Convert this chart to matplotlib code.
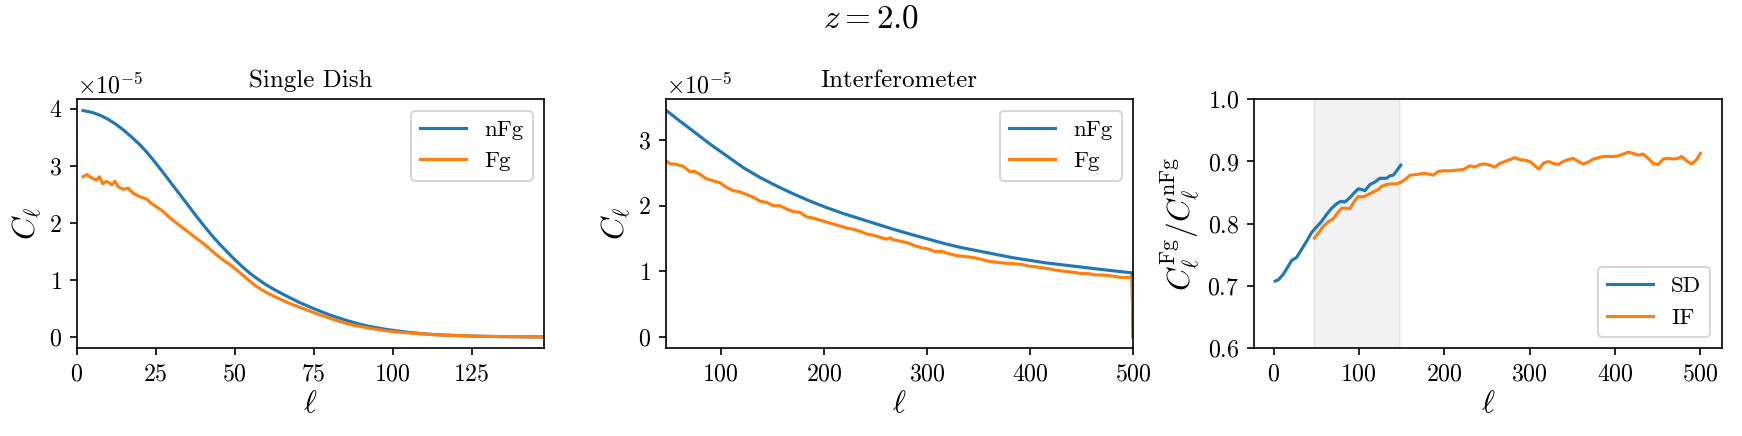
import matplotlib
matplotlib.use("Agg")
import matplotlib.pyplot as plt
import numpy as np

plt.rcParams['font.family'] = 'serif'
plt.rcParams['font.serif'] = ['cmr10']
plt.rcParams['mathtext.fontset'] = 'cm'
plt.rcParams['axes.formatter.use_mathtext'] = True
plt.rcParams['axes.unicode_minus'] = False
plt.rcParams['font.size'] = 11
plt.rcParams['xtick.labelsize'] = 11.5
plt.rcParams['ytick.labelsize'] = 11.5
plt.rcParams['legend.fontsize'] = 11
plt.rcParams['axes.labelsize'] = 15
plt.rcParams['axes.labelpad'] = 2.5

# ---------------- Single Dish (values in units of 1e-5) ----------------
sd_ell_nfg = [2, 5, 7.5, 10, 12.5, 15, 17.5, 20, 22.5, 25, 27.5, 30, 32.5, 35, 37.5,
              40, 42.5, 45, 47.5, 50, 52.5, 55, 57.5, 60, 62.5, 65, 67.5, 70, 72.5,
              75, 77.5, 80, 82.5, 85, 87.5, 90, 92.5, 95, 97.5, 100, 105, 110, 115,
              120, 125, 130, 135, 140, 148]
sd_nfg = [3.97, 3.935, 3.885, 3.815, 3.725, 3.62, 3.50, 3.37, 3.22, 3.05, 2.875, 2.69,
          2.51, 2.33, 2.145, 1.97, 1.80, 1.645, 1.50, 1.36, 1.23, 1.11, 1.01, 0.915,
          0.835, 0.76, 0.69, 0.62, 0.56, 0.50, 0.445, 0.39, 0.345, 0.30, 0.26, 0.22,
          0.19, 0.165, 0.14, 0.12, 0.085, 0.058, 0.040, 0.028, 0.019, 0.013, 0.009,
          0.006, 0.003]

sd_ell_fg = [2, 3.2, 4.7, 6.3, 7.2, 8.2, 9.5, 11.1, 12.1, 13.2, 14.8, 16.3, 17.9, 20.0,
             22.1, 23.7, 25.3, 27.4, 29.5, 31.6, 33.7, 35.8, 37.9, 40.1, 42.2, 44.3,
             46.4, 48.5, 50.6, 52.7, 54.8, 56.9, 59.1, 61.2, 63.8, 67, 71.7, 77, 82.3,
             87.5, 92.8, 98, 103.4, 114, 127.7, 140, 148]
sd_fg = [2.81, 2.85, 2.79, 2.75, 2.81, 2.69, 2.73, 2.67, 2.73, 2.63, 2.59, 2.61, 2.52,
         2.46, 2.42, 2.34, 2.28, 2.20, 2.09, 2.00, 1.91, 1.82, 1.73, 1.64, 1.54, 1.44,
         1.35, 1.27, 1.18, 1.08, 0.98, 0.89, 0.81, 0.75, 0.68, 0.60, 0.50, 0.39, 0.29,
         0.21, 0.155, 0.11, 0.08, 0.04, 0.015, 0.007, 0.004]

# ---------------- Interferometer (values in units of 1e-5) ----------------
if_ell_nfg = [47, 60.1, 72.7, 89.3, 105.5, 121.7, 137.9, 154.1, 170.3, 186.5, 202.7,
              218.9, 235.1, 251.3, 267.5, 285.2, 301.4, 317.6, 333.8, 350, 366.2,
              382.4, 398.6, 414.8, 431, 447.1, 463.3, 479.5, 497.3, 499, 500]
if_nfg = [3.45, 3.29, 3.14, 2.94, 2.76, 2.58, 2.43, 2.30, 2.18, 2.07, 1.97, 1.88, 1.80,
          1.72, 1.64, 1.56, 1.49, 1.42, 1.36, 1.31, 1.26, 1.21, 1.17, 1.13, 1.10, 1.07,
          1.04, 1.01, 0.98, 0.977, 0.0]

if_ell_fg = [47, 50.4, 56.9, 63.3, 69.8, 74.7, 79.5, 86.0, 92.5, 99.0, 105.4, 111.9,
             118.4, 124.9, 131.3, 137.8, 144.3, 150.8, 157.3, 163.7, 170.2, 176.7,
             183.2, 189.7, 196.1, 202.6, 209.1, 215.6, 222.0, 228.5, 235.0, 241.5,
             248.0, 254.4, 260.9, 264.2, 267.4, 273.9, 282.0, 288.4, 294.9, 301.4,
             307.9, 314.3, 320.8, 327.3, 333.8, 340.3, 346.7, 353.2, 359.7, 366.2,
             372.6, 379.1, 385.6, 392.1, 398.6, 405.0, 411.5, 418.0, 424.5, 431.0,
             437.4, 443.9, 450.4, 456.9, 463.3, 469.8, 476.3, 482.8, 489.3, 495.7,
             499, 500]
if_fg = [2.68, 2.64, 2.63, 2.60, 2.52, 2.52, 2.48, 2.41, 2.38, 2.35, 2.28, 2.23, 2.21,
         2.17, 2.13, 2.07, 2.05, 2.00, 2.00, 1.95, 1.91, 1.90, 1.83, 1.81, 1.78, 1.75,
         1.72, 1.69, 1.66, 1.64, 1.61, 1.57, 1.55, 1.52, 1.49, 1.51, 1.48, 1.46, 1.43,
         1.39, 1.36, 1.34, 1.30, 1.305, 1.27, 1.245, 1.23, 1.22, 1.205, 1.18, 1.155,
         1.14, 1.13, 1.12, 1.115, 1.105, 1.08, 1.07, 1.055, 1.04, 1.02, 1.005, 0.995,
         0.98, 0.965, 0.965, 0.945, 0.945, 0.935, 0.92, 0.905, 0.91, 0.895, 0.0]

# ---------------- Ratio ----------------
ratio_sd_ell = [2, 5.6, 11.5, 17.3, 21.2, 27.1, 32.9, 38.8, 44.6, 50.5, 56.4, 62.2,
                68.1, 73.9, 78.6, 83.7, 89.5, 95.4, 99.3, 103.2, 107.1, 112.9, 118.8,
                124.7, 128.6, 132.5, 136.4, 140.3, 144.2, 149]
ratio_sd = [0.708, 0.710, 0.719, 0.732, 0.741, 0.746, 0.759, 0.772, 0.786, 0.795, 0.804,
            0.815, 0.825, 0.832, 0.836, 0.835, 0.842, 0.851, 0.856, 0.855, 0.853, 0.863,
            0.867, 0.873, 0.873, 0.873, 0.877, 0.878, 0.885, 0.894]

ratio_if_ell = [47.8, 52.5, 58.3, 64.2, 70.0, 74.7, 79.8, 85.6, 89.5, 94.2, 99.3, 105.2,
                111.0, 116.9, 122.7, 126.6, 132.5, 138.3, 144.2, 150.0, 155.9, 159.8,
                167.6, 175.4, 181.3, 187.1, 193.0, 198.9, 206.7, 214.5, 222.3, 230.1,
                235.9, 241.8, 247.7, 253.6, 259.4, 265.3, 271.1, 277.0, 282.8, 288.7,
                294.5, 300.4, 306.3, 311.0, 316.0, 321.9, 327.7, 333.6, 339.4, 345.3,
                351.2, 357.0, 362.9, 368.7, 374.6, 380.4, 386.3, 392.1, 398.0, 403.9,
                409.7, 415.6, 421.4, 427.3, 433.1, 439.0, 444.9, 450.7, 456.6, 462.4,
                468.3, 474.1, 478.0, 483.9, 489.7, 495.6, 500]
ratio_if = [0.777, 0.785, 0.796, 0.803, 0.808, 0.817, 0.825, 0.825, 0.824, 0.835, 0.844,
            0.843, 0.847, 0.851, 0.855, 0.860, 0.863, 0.864, 0.864, 0.867, 0.873, 0.878,
            0.879, 0.881, 0.880, 0.878, 0.884, 0.885, 0.885, 0.886, 0.887, 0.893, 0.891,
            0.895, 0.896, 0.894, 0.891, 0.897, 0.900, 0.903, 0.906, 0.903, 0.902, 0.900,
            0.893, 0.888, 0.897, 0.900, 0.897, 0.895, 0.900, 0.903, 0.905, 0.900, 0.896,
            0.899, 0.904, 0.906, 0.908, 0.908, 0.908, 0.909, 0.912, 0.915, 0.913, 0.910,
            0.912, 0.905, 0.897, 0.895, 0.904, 0.905, 0.904, 0.905, 0.908, 0.901, 0.896,
            0.903, 0.913]

overlap_range = (47, 148)

scale = 1e-5

W, H = 1743, 436
fig = plt.figure(figsize=(W / 150, H / 150), dpi=150)

bottom = 1 - 348.3 / H
height = (348.3 - 99.2) / H
width = 467.6 / W
ax1 = fig.add_axes([76.7 / W, bottom, width, height])
ax2 = fig.add_axes([665.5 / W, bottom, width, height])
ax3 = fig.add_axes([1254.0 / W, bottom, width, height])

# Panel 1
ax1.plot(sd_ell_nfg, np.array(sd_nfg) * scale, color='tab:blue', label='nFg')
ax1.plot(sd_ell_fg, np.array(sd_fg) * scale, color='tab:orange', label='Fg')
ax1.set_xlim(0, 148)
ax1.set_title('Single Dish', fontsize=12)
ax1.set_xlabel(r'$\ell$')
ax1.set_ylabel(r'$C_\ell$')
ax1.legend(loc='upper right')

# Panel 2
ax2.plot(if_ell_nfg, np.array(if_nfg) * scale, color='tab:blue', label='nFg')
ax2.plot(if_ell_fg, np.array(if_fg) * scale, color='tab:orange', label='Fg')
ax2.set_xlim(46.2, 500)
ax2.set_title('Interferometer', fontsize=12)
ax2.set_xlabel(r'$\ell$')
ax2.set_ylabel(r'$C_\ell$')
ax2.legend(loc='upper right')

# Panel 3
ax3.axvspan(overlap_range[0], overlap_range[1], color='gray', alpha=0.1)
ax3.plot(ratio_sd_ell, ratio_sd, color='tab:blue', label='SD')
ax3.plot(ratio_if_ell, ratio_if, color='tab:orange', label='IF')
ax3.set_ylim(0.6, 1.0)
ax3.set_xlabel(r'$\ell$')
ax3.set_ylabel(r'$C_\ell^{\rm Fg}/C_\ell^{\rm nFg}$')
ax3.legend(loc='lower right')

for ax in (ax1, ax2):
    ax.yaxis.get_offset_text().set_fontsize(11.5)

fig.suptitle(r'$z = 2.0$', fontsize=16, y=0.99)

fig.savefig('out.png', dpi=150)
